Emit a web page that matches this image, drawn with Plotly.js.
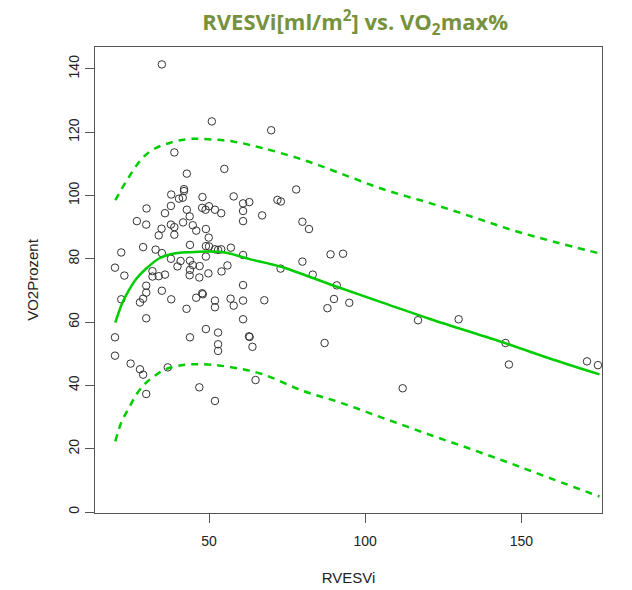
<!DOCTYPE html>
<html>
<head>
<meta charset="utf-8">
<script src="https://cdn.plot.ly/plotly-3.0.1.min.js"></script>
<style>html,body{margin:0;padding:0;background:#fff;}#chart{width:632px;height:590px;}</style>
</head>
<body>
<div id="chart"></div>
<script>
const rvesvi = [
  34.9, 50.9, 38.9, 54.9, 42.9, 42.0, 42.0, 37.9, 40.4, 41.6, 47.9, 57.9, 60.9, 62.9, 71.9, 73.0, 77.9, 69.9,
  30.0, 37.8, 35.9, 42.9, 43.8, 47.8, 48.9, 50.0, 51.9, 53.9, 60.9, 67.0, 26.9, 29.9, 41.7, 37.8, 38.9, 34.8,
  33.9, 38.9, 44.8, 45.9, 49.0, 49.9, 60.9, 79.9, 82.0, 43.9, 28.9, 32.9, 21.9, 34.9, 49.0, 50.0, 51.9, 52.9,
  53.9, 57.0, 60.9, 49.0, 37.8, 40.9, 43.9, 39.9, 44.8, 47.0, 43.9, 19.9, 22.9, 31.9, 31.9, 33.9, 35.9, 43.8,
  46.9, 49.8, 54.0, 55.9, 79.9, 88.9, 92.9, 72.9, 83.2,
  29.9, 29.9, 28.9, 27.9, 21.9, 34.9, 37.9, 42.8, 45.9, 47.8, 48.0, 51.9, 51.9, 56.9, 57.9, 60.9, 60.9, 67.7,
  60.9, 29.9, 90.9, 90.0, 94.9, 87.9, 116.9, 129.9, 19.9, 43.9, 49.0, 52.9, 62.8, 63.0, 63.9, 52.9, 52.9, 87.0,
  144.9, 146.0, 171.0, 174.5, 19.9, 24.9, 27.9, 28.9, 36.8, 29.9, 46.9, 51.9, 64.9, 112.0
];
const vo2prozent = [
  141.4, 123.4, 113.6, 108.4, 106.9, 102.0, 101.4, 100.3, 99.0, 99.3, 99.5, 99.7, 97.5, 97.9, 98.6, 98.1, 101.9, 120.6,
  95.9, 96.7, 94.4, 95.5, 93.4, 96.1, 95.5, 96.6, 95.5, 94.4, 95.1, 93.7, 91.9, 90.8, 91.5, 90.8, 90.0, 89.5,
  87.4, 87.6, 90.6, 88.9, 89.4, 86.7, 91.9, 91.7, 89.4, 84.4, 83.7, 82.9, 82.0, 81.8, 84.0, 83.9, 83.0, 82.8,
  83.0, 83.5, 81.2, 80.7, 80.0, 79.3, 79.4, 77.6, 78.0, 77.7, 76.5, 77.2, 74.7, 76.1, 74.4, 74.5, 75.0, 74.8,
  74.1, 75.4, 76.0, 77.9, 79.1, 81.4, 81.6, 76.9, 75.0,
  71.5, 69.3, 67.4, 66.2, 67.2, 69.9, 67.2, 64.2, 67.7, 69.1, 68.8, 66.8, 64.7, 67.4, 65.2, 71.7, 66.8, 66.9,
  60.9, 61.2, 71.6, 67.3, 66.1, 64.4, 60.6, 60.9, 55.2, 55.2, 57.8, 56.7, 55.5, 55.3, 52.2, 53.0, 50.9, 53.4,
  53.4, 46.6, 47.6, 46.4, 49.4, 46.9, 45.1, 43.4, 45.7, 37.3, 39.4, 35.1, 41.7, 39.1
];

// Fitted curve (solid)
const fitX = [20, 22, 24, 27, 30, 34, 38, 44, 50, 55, 63, 73, 90, 106, 121, 145, 160, 175];
const fitY = [59.8, 65.5, 69.5, 74.0, 77.0, 80.1, 81.5, 82.1, 82.3, 82.0, 79.9, 77.5, 71.5, 66.0, 60.9, 53.3, 48.2, 43.5];

// Upper and lower dashed bands
const bandX = [20, 22, 24.4, 27, 29.7, 33, 36.1, 40, 44.7, 51, 58, 67, 80, 92, 106, 121, 135, 147, 160, 175];
const upperY = [98.5, 102.0, 105.9, 109.8, 112.8, 115.0, 116.2, 117.3, 117.9, 117.7, 117.0, 115.0, 111.3, 107.0, 101.9, 97.5, 93.0, 89.1, 85.5, 81.7];
const lowerY = [22.3, 28.5, 33.0, 37.5, 40.7, 43.3, 45.1, 46.2, 46.7, 46.5, 45.6, 43.6, 38.3, 34.6, 29.6, 24.3, 19.5, 15.2, 10.4, 4.9];

const xTicks = [50, 100, 150];
const yTicks = [0, 20, 40, 60, 80, 100, 120, 140];

const green = '#00CD00';
const traces = [
  {x: rvesvi, y: vo2prozent, type: 'scatter', mode: 'markers',
   marker: {symbol: 'circle-open', size: 7.5, color: '#333333', line: {width: 1, color: '#333333'}},
   hoverinfo: 'x+y'},
  {x: fitX, y: fitY, type: 'scatter', mode: 'lines', line: {color: green, width: 2.5, shape: 'spline'}},
  {x: bandX, y: upperY, type: 'scatter', mode: 'lines', line: {color: green, width: 2.5, dash: '7px,6px', shape: 'spline'}},
  {x: bandX, y: lowerY, type: 'scatter', mode: 'lines', line: {color: green, width: 2.5, dash: '7px,6px', shape: 'spline'}}
];

const axisFont = {family: 'Liberation Sans, Arial, sans-serif', size: 14, color: '#222'};
const layout = {
  width: 632, height: 590,
  margin: {l: 95, r: 30, t: 47, b: 77},
  paper_bgcolor: '#ffffff', plot_bgcolor: '#ffffff',
  showlegend: false,
  title: {
    text: 'RVESVi[ml/m<sup>2</sup>] vs. VO<sub>2</sub>max%',
    font: {family: 'Open Sans, sans-serif', size: 22, color: '#76923C', weight: 700},
    x: 0.562, xref: 'container', xanchor: 'center',
    y: 0.962, yref: 'container', yanchor: 'middle'
  },
  xaxis: {
    range: [13.5, 175.8], tickvals: xTicks, ticktext: xTicks.map(String),
    showgrid: false, zeroline: false, showline: true, mirror: true,
    linecolor: '#555', linewidth: 1, ticks: 'outside', ticklen: 9, tickcolor: '#555',
    tickfont: axisFont, ticklabelstandoff: 6,
    title: {text: 'RVESVi', font: {family: 'Liberation Sans, Arial, sans-serif', size: 15, color: '#222'}, standoff: 24}
  },
  yaxis: {
    range: [-0.3, 146.9], tickvals: yTicks, ticktext: yTicks.map(String),
    showgrid: false, zeroline: false, showline: true, mirror: true,
    linecolor: '#555', linewidth: 1, ticks: 'outside', ticklen: 9, tickcolor: '#555',
    tickangle: -90, tickfont: axisFont,
    title: {text: 'VO2Prozent', font: {family: 'Liberation Sans, Arial, sans-serif', size: 15, color: '#222'}, standoff: 24}
  }
};

Plotly.newPlot('chart', traces, layout, {displayModeBar: false, staticPlot: true});
</script>
</body>
</html>
